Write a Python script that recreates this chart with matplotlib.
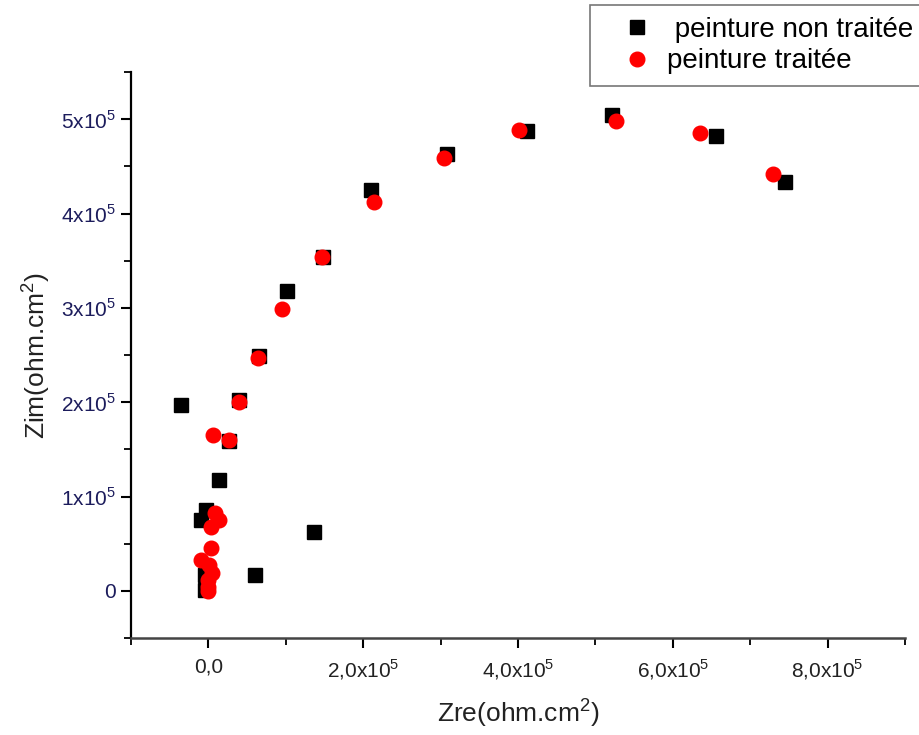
import matplotlib.pyplot as plt
from matplotlib.ticker import MultipleLocator, FuncFormatter

# Nyquist data (ohm.cm2)
zre_non = [-0.36e5, 0.40e5, 0.65e5, 1.01e5, 1.48e5, 2.10e5, 3.08e5, 4.12e5, 5.21e5, 6.56e5, 7.45e5,
           1.36e5, 0.60e5, 0.14e5, -0.03e5, -0.10e5, 0.27e5, -0.05e5, -0.04e5]
zim_non = [1.97e5, 2.02e5, 2.49e5, 3.18e5, 3.54e5, 4.25e5, 4.63e5, 4.87e5, 5.04e5, 4.82e5, 4.33e5,
           0.62e5, 0.17e5, 1.17e5, 0.86e5, 0.75e5, 1.59e5, 0.17e5, 0.01e5]

zre_tr = [0.40e5, 0.64e5, 0.95e5, 1.47e5, 2.14e5, 3.04e5, 4.01e5, 5.26e5, 6.35e5, 7.30e5,
          0.06e5, 0.26e5, 0.08e5, 0.14e5, 0.03e5, 0.03e5, -0.10e5, 0.01e5, 0.05e5, -0.01e5, 0.0, -0.01e5]
zim_tr = [2.00e5, 2.47e5, 2.99e5, 3.54e5, 4.12e5, 4.59e5, 4.89e5, 4.98e5, 4.85e5, 4.42e5,
          1.65e5, 1.60e5, 0.82e5, 0.75e5, 0.68e5, 0.45e5, 0.33e5, 0.27e5, 0.19e5, 0.12e5, 0.04e5, 0.0]

labels = [" peinture non traitée", "peinture traitée"]

plt.rcParams['font.family'] = ['Liberation Sans', 'DejaVu Sans']
plt.rcParams['mathtext.fontset'] = 'custom'
plt.rcParams['mathtext.rm'] = 'Liberation Sans'

fig = plt.figure(figsize=(9.19, 7.35), dpi=100)
ax = fig.add_axes([131/919, 1 - 638/735, (905-131)/919, (638-72)/735])

ax.plot(zre_non, zim_non, 's', color='black', ms=9.5, label=labels[0])
ax.plot(zre_tr, zim_tr, 'o', color='red', ms=10.5, label=labels[1])

ax.set_xlim(-1e5, 9e5)
ax.set_ylim(-0.5e5, 5.5e5)

for s in ['top', 'right']:
    ax.spines[s].set_visible(False)
ax.spines['left'].set_linewidth(1.6)
ax.spines['bottom'].set_linewidth(1.8)
ax.spines['bottom'].set_color('#444444')

ax.xaxis.set_major_locator(MultipleLocator(2e5))
ax.xaxis.set_minor_locator(MultipleLocator(1e5))
ax.yaxis.set_major_locator(MultipleLocator(1e5))
ax.yaxis.set_minor_locator(MultipleLocator(0.5e5))


def fmt_x(v, pos):
    if abs(v) < 1:
        return "0,0"
    return "%s,0x10$^5$" % int(round(v / 1e5))


def fmt_y(v, pos):
    if abs(v) < 1:
        return "0"
    return "%dx10$^5$" % int(round(v / 1e5))


ax.xaxis.set_major_formatter(FuncFormatter(fmt_x))
ax.yaxis.set_major_formatter(FuncFormatter(fmt_y))
ax.tick_params(axis='both', which='major', direction='out', length=7, width=1.5)
ax.tick_params(axis='both', which='minor', direction='out', length=5, width=1.3)
ax.tick_params(axis='x', labelsize=15, labelcolor='#222222', pad=7)
ax.tick_params(axis='y', labelsize=15, labelcolor='#1c1c5c', pad=4)

ax.set_xlabel("Zre(ohm.cm$^2$)", fontsize=19, color='#222222', labelpad=10)
ax.set_ylabel("Zim(ohm.cm$^2$)", fontsize=19, color='#222222', labelpad=6)

leg = fig.legend(loc='upper left', bbox_to_anchor=(590/919, 1 - 5/735), fontsize=20,
                 frameon=True, fancybox=False, edgecolor='#555555', handletextpad=-0.15,
                 borderpad=0.43, labelspacing=0.2, handlelength=2.5, borderaxespad=0)
leg.get_frame().set_linewidth(1.2)

fig.savefig("out.png", dpi=100)
